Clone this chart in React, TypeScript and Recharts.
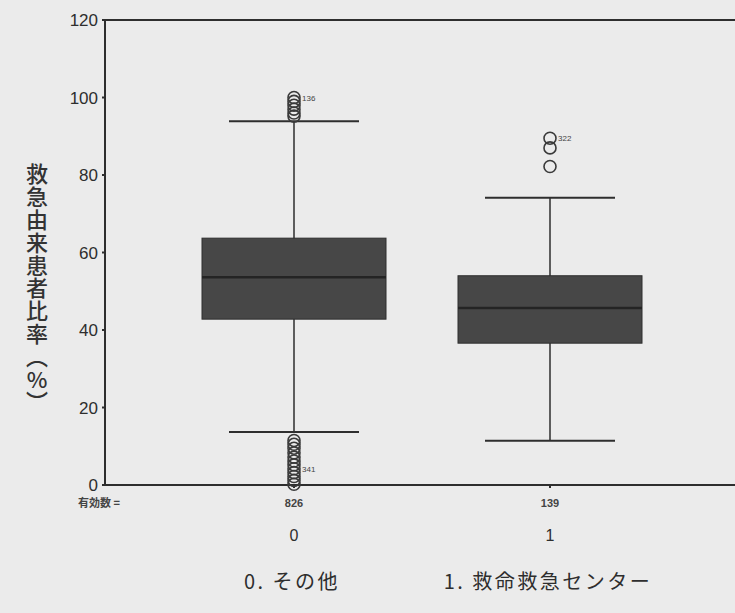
import React from "react";
import {
  ComposedChart,
  Bar,
  Scatter,
  XAxis,
  YAxis,
  ReferenceLine,
} from "recharts";

// Categories and statistics
const categories = ["0", "1"];
const categoryNames = ["0. その他", "1. 救命救急センター"];
const counts = ["826", "139"];
const whiskerLow = [13.7, 11.4];
const q1 = [42.8, 36.6];
const median = [53.6, 45.7];
const q3 = [63.7, 54.0];
const whiskerHigh = [93.9, 74.1];

// Outliers
const outlierCats = [
  "0", "0", "0", "0", "0", "0",
  "0", "0", "0", "0", "0", "0", "0", "0", "0", "0", "0", "0",
  "1", "1", "1",
];
const outlierValues = [
  100, 99, 98, 97, 96, 95.2,
  11.5, 10.5, 9.5, 8.3, 7.2, 6.2, 5.2, 4.2, 3.2, 2.2, 1.2, 0.2,
  89.5, 87, 82.2,
];
const outlierLabels = [
  "136", "", "", "", "", "",
  "", "", "", "", "", "", "", "341", "", "", "", "",
  "322", "", "",
];

const yTicks = [0, 20, 40, 60, 80, 100, 120];
const yLabel = "救急由来患者比率（%）";
const countLabel = "有効数 =";

const data = categories.map((c, i) => ({
  cat: c,
  range: [whiskerLow[i], whiskerHigh[i]],
  lo: whiskerLow[i],
  hi: whiskerHigh[i],
  q1: q1[i],
  med: median[i],
  q3: q3[i],
}));

const outliers = outlierValues.map((v, i) => ({
  cat: outlierCats[i],
  v,
  label: outlierLabels[i],
}));

const INK = "#2e2e2e";
const NUM_FONT = "'Liberation Sans', Arial, sans-serif";
const JP_FONT = "'Noto Sans CJK JP', 'Noto Sans', sans-serif";

const BoxShape = (props: any) => {
  const { x, y, width, height, payload } = props;
  const { lo, hi } = payload;
  const py = (v: number) => y + ((hi - v) / (hi - lo)) * height;
  const cx = x + width / 2;
  const capW = 130;
  const yQ1 = py(payload.q1);
  const yQ3 = py(payload.q3);
  const yMed = py(payload.med);
  return (
    <g>
      <line x1={cx} x2={cx} y1={py(hi)} y2={py(lo)} stroke={INK} strokeWidth={1.5} />
      <line x1={cx - capW / 2} x2={cx + capW / 2} y1={py(hi)} y2={py(hi)} stroke={INK} strokeWidth={2} />
      <line x1={cx - capW / 2} x2={cx + capW / 2} y1={py(lo)} y2={py(lo)} stroke={INK} strokeWidth={2} />
      <rect x={x} y={yQ3} width={width} height={yQ1 - yQ3} fill="#474747" stroke="#2e2e2e" strokeWidth={1} />
      <line x1={x} x2={x + width} y1={yMed} y2={yMed} stroke="#242424" strokeWidth={2.5} />
    </g>
  );
};

const OutlierShape = (props: any) => {
  const { cx, cy, payload } = props;
  return (
    <g>
      <circle cx={cx} cy={cy} r={6} fill="none" stroke="#3a3a3a" strokeWidth={1.6} />
      {payload.label ? (
        <text x={cx + 8} y={cy + 3} fontSize={8} fontFamily={NUM_FONT} fill="#444">
          {payload.label}
        </text>
      ) : null}
    </g>
  );
};

const XTick = (props: any) => {
  const { x, y, payload, index } = props;
  return (
    <g>
      <text x={x} y={y + 17} textAnchor="middle" fontSize={11} fontWeight="bold" fontFamily={NUM_FONT} fill="#444">
        {counts[index]}
      </text>
      <text x={x} y={y + 51} textAnchor="middle" fontSize={16} fontFamily={NUM_FONT} fill={INK}>
        {payload.value}
      </text>
      <text
        x={x - 2}
        y={y + 99}
        textAnchor="middle"
        fontSize={20}
        letterSpacing={2.5}
        fontFamily={JP_FONT}
        fill={INK}
      >
        {categoryNames[index]}
      </text>
    </g>
  );
};

const YLabelContent = () => (
  <text
    x={37}
    y={163}
    fontSize={22}
    fontWeight={500}
    letterSpacing={0.8}
    fontFamily={JP_FONT}
    fill="#333"
    style={{ writingMode: "vertical-rl", textOrientation: "upright" } as any}
  >
    {yLabel}
  </text>
);

export default function App() {
  return (
    <div style={{ position: "absolute", left: 0, top: 0, width: 735, height: 613, background: "#ebebeb", overflow: "hidden" }}>
      <ComposedChart
        width={735}
        height={613}
        data={data}
        margin={{ top: 20, right: 0, left: 0, bottom: 0 }}
      >
        <XAxis
          dataKey="cat"
          type="category"
          allowDuplicatedCategory={false}
          padding={{ left: 61, right: 57 }}
          axisLine={{ stroke: INK, strokeWidth: 2 }}
          tickLine={{ stroke: INK, strokeWidth: 2 }}
          tickSize={3}
          tick={<XTick />}
          interval={0}
          height={128}
        />
        <YAxis
          type="number"
          domain={[0, 120]}
          ticks={yTicks}
          width={105}
          axisLine={{ stroke: INK, strokeWidth: 2 }}
          tickLine={{ stroke: INK, strokeWidth: 2 }}
          tickSize={3}
          tickMargin={4}
          tick={{ fontSize: 17, fill: INK, fontFamily: NUM_FONT }}
          label={{ content: <YLabelContent /> }}
        />
        <ReferenceLine y={120} stroke={INK} strokeWidth={2} />
        <Bar dataKey="range" barSize={184} shape={<BoxShape />} isAnimationActive={false} />
        <Scatter data={outliers} dataKey="v" shape={<OutlierShape />} isAnimationActive={false} />
      </ComposedChart>
      <div
        style={{
          position: "absolute",
          left: 78,
          top: 494,
          fontSize: 11,
          fontWeight: "bold",
          fontFamily: JP_FONT,
          color: "#444",
          whiteSpace: "nowrap",
        }}
      >
        {countLabel}
      </div>
    </div>
  );
}
